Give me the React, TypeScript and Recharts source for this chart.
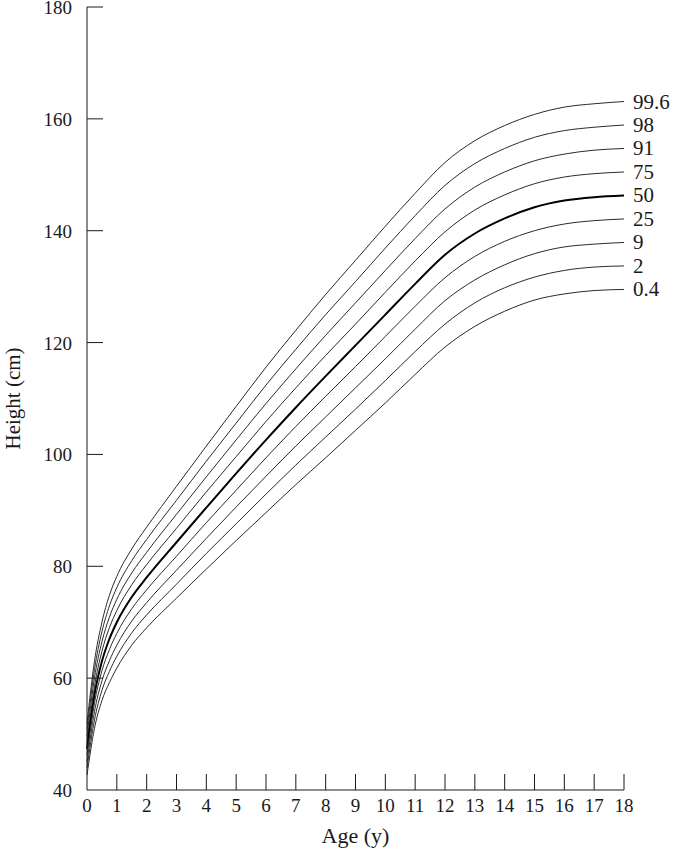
import { LineChart, Line, XAxis, YAxis } from 'recharts';

// age in years
const ages = [0, 0.25, 0.5, 0.75, 1, 1.5, 2, 3, 4, 5, 6, 7, 8, 9, 10, 11, 12, 13, 14, 15, 16, 17, 18];

// height (cm) per centile
const p0_4 = [42.7, 51.0, 56.0, 59.2, 61.8, 65.9, 69.0, 74.3, 79.5, 84.6, 89.6, 94.6, 99.4, 104.3, 109.2, 114.3, 119.2, 122.9, 125.6, 127.6, 128.7, 129.3, 129.5];
const p2 = [43.9, 52.5, 57.8, 61.2, 63.9, 68.1, 71.3, 76.8, 82.3, 87.6, 92.9, 98.1, 103.1, 108.1, 113.2, 118.4, 123.3, 127.1, 129.8, 131.7, 132.9, 133.5, 133.7];
const p9 = [45.0, 54.0, 59.5, 63.1, 65.9, 70.2, 73.5, 79.3, 85.0, 90.6, 96.1, 101.5, 106.7, 111.9, 117.1, 122.4, 127.5, 131.2, 133.9, 135.9, 137.1, 137.6, 137.9];
const p25 = [46.2, 55.5, 61.3, 65.1, 68.0, 72.4, 75.8, 81.8, 87.8, 93.6, 99.4, 105.0, 110.4, 115.7, 121.1, 126.5, 131.6, 135.4, 138.1, 140.0, 141.2, 141.8, 142.1];
const p50 = [47.3, 57.0, 63.0, 67.0, 70.0, 74.5, 78.0, 84.3, 90.5, 96.6, 102.6, 108.4, 114.0, 119.5, 125.0, 130.5, 135.7, 139.5, 142.2, 144.2, 145.4, 146.0, 146.3];
const p75 = [48.5, 58.5, 64.8, 69.0, 72.1, 76.7, 80.3, 86.8, 93.3, 99.6, 105.9, 111.9, 117.7, 123.3, 129.0, 134.6, 139.8, 143.7, 146.4, 148.4, 149.6, 150.2, 150.5];
const p91 = [49.6, 60.0, 66.5, 70.9, 74.1, 78.8, 82.5, 89.3, 96.0, 102.6, 109.1, 115.3, 121.3, 127.1, 132.9, 138.6, 143.9, 147.8, 150.5, 152.5, 153.7, 154.4, 154.7];
const p98 = [50.8, 61.5, 68.3, 72.9, 76.2, 81.0, 84.8, 91.8, 98.8, 105.6, 112.4, 118.8, 125.0, 130.9, 136.9, 142.7, 148.1, 152.0, 154.7, 156.7, 157.9, 158.5, 158.9];
const p99_6 = [51.9, 63.0, 70.0, 74.8, 78.2, 83.1, 87.0, 94.3, 101.5, 108.6, 115.6, 122.2, 128.6, 134.7, 140.8, 146.7, 152.2, 156.1, 158.8, 160.8, 162.1, 162.7, 163.1];

const centiles = [
  { key: 'c99_6', name: '99.6', values: p99_6 },
  { key: 'c98', name: '98', values: p98 },
  { key: 'c91', name: '91', values: p91 },
  { key: 'c75', name: '75', values: p75 },
  { key: 'c50', name: '50', values: p50 },
  { key: 'c25', name: '25', values: p25 },
  { key: 'c9', name: '9', values: p9 },
  { key: 'c2', name: '2', values: p2 },
  { key: 'c0_4', name: '0.4', values: p0_4 },
];

const xTicks = [0, 1, 2, 3, 4, 5, 6, 7, 8, 9, 10, 11, 12, 13, 14, 15, 16, 17, 18];
const yTicks = [40, 60, 80, 100, 120, 140, 160, 180];

const data = ages.map((age, i) => {
  const row: Record<string, number> = { age };
  centiles.forEach((c) => {
    row[c.key] = c.values[i];
  });
  return row;
});

const FONT = 'Liberation Serif, DejaVu Serif, Times, serif';
const INK = '#1a1a1a';

// ticks point inward, like the original
const YTick = ({ x, y, payload }: any) => (
  <g>
    {payload.value !== 40 && <line x1={x + 15} x2={x + 31} y1={y} y2={y} stroke={INK} />}
    <text x={x} y={y} dy={7} textAnchor="end" fontFamily={FONT} fontSize={19} fill={INK}>
      {payload.value}
    </text>
  </g>
);

const XTick = ({ x, y, payload }: any) => (
  <g>
    {payload.value !== 0 && <line x1={x} x2={x} y1={y - 8} y2={y - 24} stroke={INK} />}
    <text x={x} y={y} dy={14} textAnchor="middle" fontFamily={FONT} fontSize={19} fill={INK}>
      {payload.value}
    </text>
  </g>
);

const endLabel = (text: string) => (props: any) => {
  if (props.index !== ages.length - 1) return null;
  return (
    <text x={props.x + 9} y={props.y} dy={7} fontFamily={FONT} fontSize={21} fill={INK}>
      {text}
    </text>
  );
};

export default function App() {
  return (
    <div style={{ position: 'absolute', left: 0, top: 0, background: '#fff' }}>
      <LineChart width={674} height={852} data={data} margin={{ top: 7, right: 50, bottom: 0, left: 0 }}>
        <XAxis
          dataKey="age"
          type="number"
          domain={[0, 18]}
          ticks={xTicks}
          interval={0}
          height={62}
          tickSize={0}
          tickMargin={8}
          tick={<XTick />}
          axisLine={{ stroke: INK }}
          tickLine={false}
          label={{
            content: ({ viewBox }: any) => (
              <text
                x={viewBox.x + viewBox.width / 2}
                y={viewBox.y + 53}
                textAnchor="middle"
                fontFamily={FONT}
                fontSize={22}
                fill={INK}
              >
                Age (y)
              </text>
            ),
          }}
        />
        <YAxis
          type="number"
          domain={[40, 180]}
          ticks={yTicks}
          interval={0}
          width={87}
          tickSize={0}
          tickMargin={15}
          tick={<YTick />}
          axisLine={{ stroke: INK }}
          tickLine={false}
          label={{
            content: ({ viewBox }: any) => {
              const cx = viewBox.x + 20;
              const cy = viewBox.y + viewBox.height / 2;
              return (
                <text
                  x={cx}
                  y={cy}
                  transform={`rotate(-90 ${cx} ${cy})`}
                  textAnchor="middle"
                  fontFamily={FONT}
                  fontSize={21}
                  fill={INK}
                >
                  Height (cm)
                </text>
              );
            },
          }}
        />
        {centiles.map((c) => (
          <Line
            key={c.key}
            type="monotone"
            dataKey={c.key}
            stroke={c.key === 'c50' ? '#000' : '#2a2a2a'}
            strokeWidth={c.key === 'c50' ? 2 : 1}
            dot={false}
            activeDot={false}
            isAnimationActive={false}
            label={endLabel(c.name)}
          />
        ))}
      </LineChart>
    </div>
  );
}
